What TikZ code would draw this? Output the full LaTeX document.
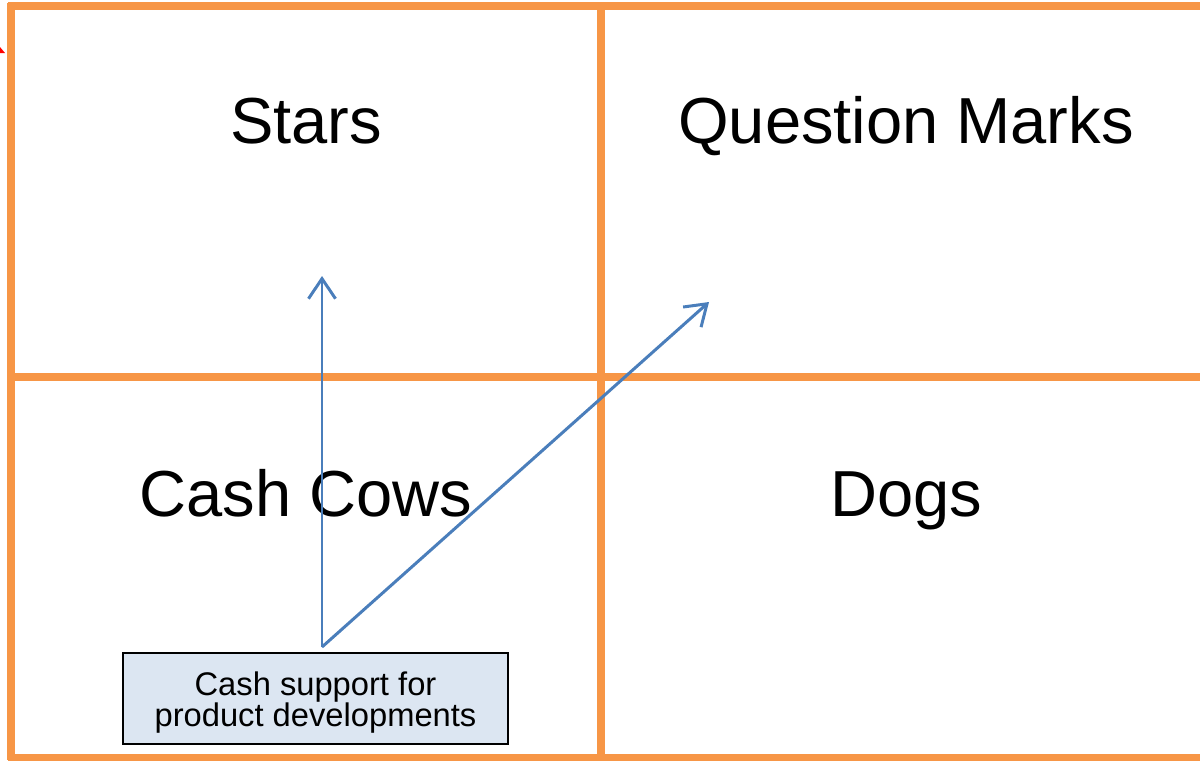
\documentclass[tikz,border=0pt]{standalone}
\usepackage{fontspec}
\setmainfont{Liberation Sans}
\usetikzlibrary{arrows.meta}
\definecolor{gridorange}{HTML}{F79646}
\definecolor{arrowblue}{HTML}{4A7EBB}
\definecolor{boxfill}{HTML}{DCE6F2}
\begin{document}
\begin{tikzpicture}[x=0.01cm,y=-0.01cm,
  gridline/.style={draw=gridorange,line width=2pt},
  cell/.style={font=\fontsize{18.5pt}{22pt}\selectfont,anchor=base,inner sep=0pt},
  flow/.style={draw=arrowblue,line width=0.85pt,-{Straight Barb[length=0.2cm,width=0.27cm,line width=0.85pt]}},
  notebox/.style={draw=black,line width=0.45pt,fill=boxfill,minimum width=3.85cm,minimum height=0.91cm,inner sep=0pt},
  notetext/.style={inner sep=0pt,align=center,font=\fontsize{9.3pt}{8.9pt}\selectfont}]
\useasboundingbox (0,0) rectangle (1200,760);
% grid
\draw[gridline] (8,6) -- (1200,6);
\draw[gridline] (8,377) -- (1200,377);
\draw[gridline] (8,757) -- (1200,757);
\draw[gridline] (11,3) -- (11,760);
\draw[gridline] (601,3) -- (601,760);
% red fragment
\fill[red] (0,47) -- (5,53) -- (0,53) -- cycle;
% labels
\node[cell] (stars) at (306,143) {Stars};
\node[cell] (qm) at (906,143) {Question Marks};
\node[cell] (cows) at (306,516) {Cash Cows};
\node[cell] (dogs) at (906,516) {Dogs};
% box
\node[notebox] (box) at (315.5,698.5) {};
\node[notetext] (boxlabel) at ([yshift=-0.04cm]box.center) {Cash support for\\product developments};
% arrows
\coordinate (src) at (322,647);
\coordinate (tstar) at (322,276);
\coordinate (tqm) at (709,302);
\draw[flow] (src) -- (tstar);
\draw[flow] (src) -- (tqm);
\end{tikzpicture}
\end{document}
